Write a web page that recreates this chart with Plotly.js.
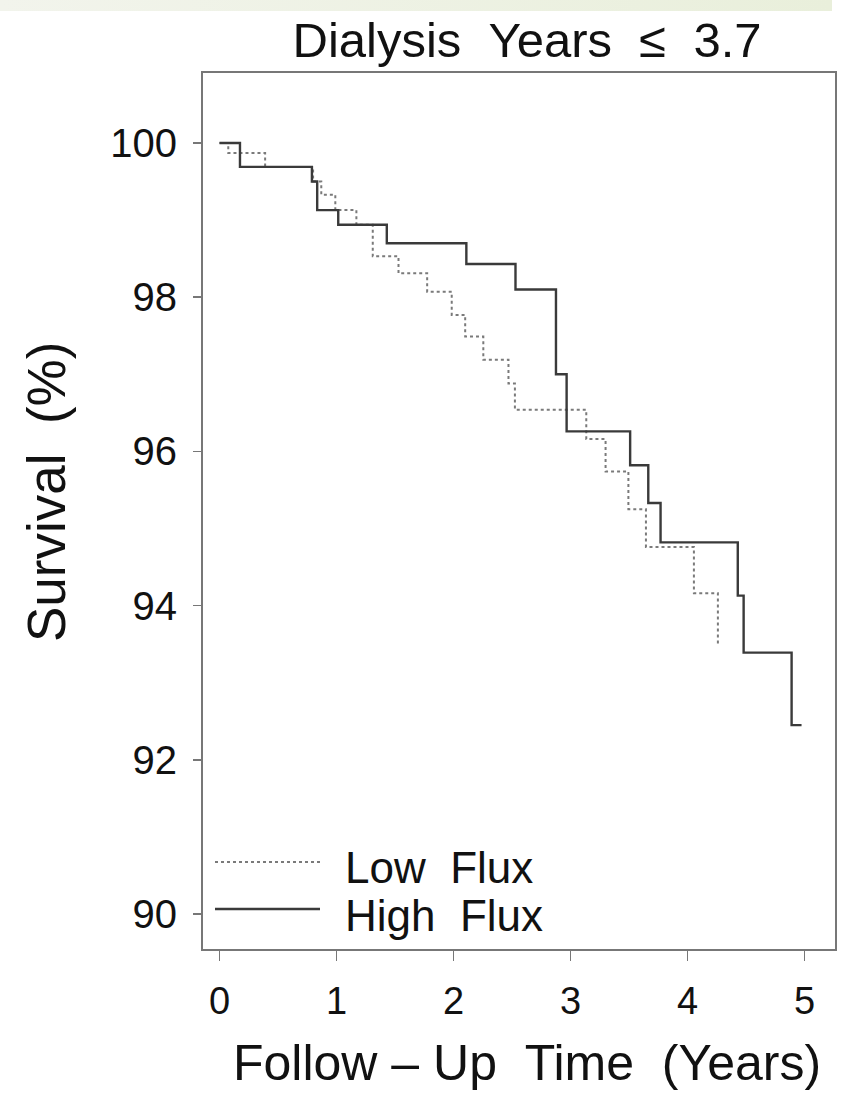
<!DOCTYPE html>
<html>
<head>
<meta charset="utf-8">
<script src="https://cdn.plot.ly/plotly-3.0.1.min.js"></script>
<style>
  html, body { margin:0; padding:0; }
  body { width:846px; height:1095px; background: linear-gradient(to right, #f2f4ec, #e9efdb) no-repeat top left / 832px 11px, #ffffff; }
  #chart { width:846px; height:1095px; }
</style>
</head>
<body>
<div id="chart"></div>
<script>
// ---- Data ----
const lowFluxTime = [0, 0.075, 0.39, 0.80, 0.87, 0.99, 1.17, 1.31, 1.53, 1.775, 1.985, 2.10, 2.255, 2.47, 2.525, 3.135, 3.30, 3.495, 3.645, 4.055, 4.26];
const lowFluxSurv = [100, 99.87, 99.69, 99.50, 99.33, 99.13, 98.94, 98.53, 98.31, 98.07, 97.77, 97.49, 97.19, 96.88, 96.54, 96.16, 95.74, 95.25, 94.76, 94.16, 93.51];

const highFluxTime = [0, 0.175, 0.79, 0.835, 1.015, 1.43, 2.11, 2.53, 2.876, 2.967, 3.51, 3.665, 3.77, 4.43, 4.48, 4.89, 4.975];
const highFluxSurv = [100, 99.69, 99.50, 99.13, 98.94, 98.70, 98.43, 98.10, 97.00, 96.26, 95.82, 95.33, 94.82, 94.13, 93.39, 92.45, 92.45];

const seriesNames = ["Low\u00a0\u00a0Flux", "High\u00a0\u00a0Flux"];
const xTickVals = [0, 1, 2, 3, 4, 5];
const yTickVals = [90, 92, 94, 96, 98, 100];
const titleText = "Dialysis\u00a0\u00a0Years\u00a0\u00a0\u2264\u00a0\u00a03.7";
const xTitleText = "Follow\u00a0\u2013\u00a0Up\u00a0\u00a0Time\u00a0\u00a0(Years)";
const yTitleText = "Survival\u00a0\u00a0(%)";

// ---- Layout geometry ----
const W = 846, H = 1095;
const M = { l: 203, r: 11, t: 73, b: 146 };
const plotW = W - M.l - M.r, plotH = H - M.t - M.b;
const px = v => (v - M.l) / plotW;
const py = v => (H - M.b - v) / plotH;

const FONT = "Liberation Sans, Arial, Helvetica, sans-serif";
const lowStyle = { color: "#7a7a7a", width: 2, dash: "3px,3px" };
const highStyle = { color: "#3a3a3a", width: 2.4, dash: "solid" };

const traces = [
  { x: lowFluxTime, y: lowFluxSurv, name: seriesNames[0], type: "scatter", mode: "lines",
    line: Object.assign({ shape: "hv" }, lowStyle), showlegend: false, hoverinfo: "x+y" },
  { x: highFluxTime, y: highFluxSurv, name: seriesNames[1], type: "scatter", mode: "lines",
    line: Object.assign({ shape: "hv" }, highStyle), showlegend: false, hoverinfo: "x+y" }
];

const layout = {
  width: W, height: H,
  margin: M,
  paper_bgcolor: "rgba(0,0,0,0)",
  plot_bgcolor: "#ffffff",
  font: { family: FONT, color: "#111111" },
  title: {
    text: titleText,
    font: { family: FONT, size: 49, color: "#111111" },
    xref: "container", yref: "container",
    x: 527 / W, xanchor: "center",
    y: 1 - 40 / H, yanchor: "middle"
  },
  xaxis: {
    range: [-0.141, 5.261],
    tickvals: xTickVals, ticktext: xTickVals.map(String),
    ticks: "outside", ticklen: 10, tickwidth: 1.5, tickcolor: "#777777",
    ticklabelstandoff: 7,
    tickfont: { family: FONT, size: 38, color: "#111111" },
    showline: true, linecolor: "#777777", linewidth: 2, mirror: true,
    showgrid: false, zeroline: false,
    title: { text: "" }
  },
  yaxis: {
    range: [89.546, 100.908],
    tickvals: yTickVals, ticktext: yTickVals.map(String),
    ticks: "outside", ticklen: 8, tickwidth: 1.5, tickcolor: "#777777",
    ticklabelstandoff: 8,
    tickfont: { family: FONT, size: 40, color: "#111111" },
    showline: true, linecolor: "#777777", linewidth: 2, mirror: true,
    showgrid: false, zeroline: false,
    title: { text: "" }
  },
  shapes: [
    { type: "line", xref: "paper", yref: "paper", x0: px(215), x1: px(320), y0: py(862), y1: py(862),
      line: lowStyle },
    { type: "line", xref: "paper", yref: "paper", x0: px(215), x1: px(320), y0: py(909), y1: py(909),
      line: highStyle }
  ],
  annotations: [
    { text: seriesNames[0], xref: "paper", yref: "paper", x: px(343), y: py(867),
      xanchor: "left", yanchor: "middle", showarrow: false, font: { family: FONT, size: 44, color: "#111111" } },
    { text: seriesNames[1], xref: "paper", yref: "paper", x: px(343), y: py(915),
      xanchor: "left", yanchor: "middle", showarrow: false, font: { family: FONT, size: 44, color: "#111111" } },
    { text: xTitleText, xref: "paper", yref: "paper", x: px(527), y: py(1063),
      xanchor: "center", yanchor: "middle", showarrow: false, font: { family: FONT, size: 50, color: "#111111" } },
    { text: yTitleText, xref: "paper", yref: "paper", x: px(46), y: py(492), textangle: -90,
      xanchor: "center", yanchor: "middle", showarrow: false, font: { family: FONT, size: 53, color: "#111111" } }
  ]
};

Plotly.newPlot("chart", traces, layout, { staticPlot: true, displayModeBar: false });
</script>
</body>
</html>
